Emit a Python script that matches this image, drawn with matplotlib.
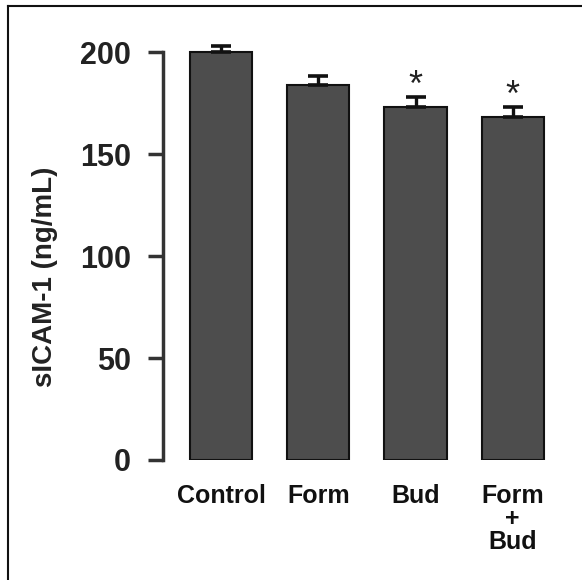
import matplotlib.pyplot as plt
from matplotlib.lines import Line2D

groups = ["Control", "Form", "Bud", "Form\n+\nBud"]
means = [200, 184, 173, 168]
sems = [3, 4, 5, 5]
significant = [False, False, True, True]
y_ticks = [0, 50, 100, 150, 200]

plt.rcParams["font.family"] = ["Liberation Sans", "DejaVu Sans"]

fig = plt.figure(figsize=(5.82, 5.80), dpi=100)
ax = fig.add_axes([0.280, 0.2069, 0.701, 0.7386])

x = range(len(groups))
ax.bar(x, means, width=0.64, color="#4d4d4d", edgecolor="#111111",
       linewidth=1.5, zorder=2)
ax.errorbar(x, means, yerr=[[0] * len(sems), sems], fmt="none",
            ecolor="#111111", elinewidth=2.4, capsize=7, capthick=2.6, zorder=3)

# significance markers above the error bars
for xi, m, s, sig in zip(x, means, sems, significant):
    if sig:
        ax.text(xi, m + s + 5, "*", ha="center", va="center",
                fontsize=26, color="#222222")

ax.set_xlim(-0.6, 3.6)
ax.set_ylim(0, 210)
ax.set_yticks(y_ticks)
ax.set_yticklabels([str(v) for v in y_ticks], fontsize=22, fontweight="bold",
                   color="#222222")
ax.set_xticks(list(x))
ax.set_xticklabels(groups, fontsize=18, fontweight="bold", color="#111111",
                   linespacing=0.95)
ax.tick_params(axis="x", length=0, pad=17)
ax.tick_params(axis="y", length=11, width=2.5, pad=12, color="#333333")

for side in ["top", "right", "bottom"]:
    ax.spines[side].set_visible(False)
ax.spines["left"].set_linewidth(2.5)
ax.spines["left"].set_color("#333333")
ax.spines["left"].set_bounds(0, 200)

fig.text(45 / 582, 1 - 277 / 580, "sICAM-1 (ng/mL)", rotation=90,
         ha="center", va="center", fontsize=20, fontweight="bold",
         color="#222222")

# outer frame: left and top edges only
fx = 8 / 582
fy = 1 - 6 / 580
fig.add_artist(Line2D([fx, fx], [0, fy], color="#111111", linewidth=1.5))
fig.add_artist(Line2D([fx, 1], [fy, fy], color="#111111", linewidth=1.5))

fig.savefig("out.png", dpi=100)
